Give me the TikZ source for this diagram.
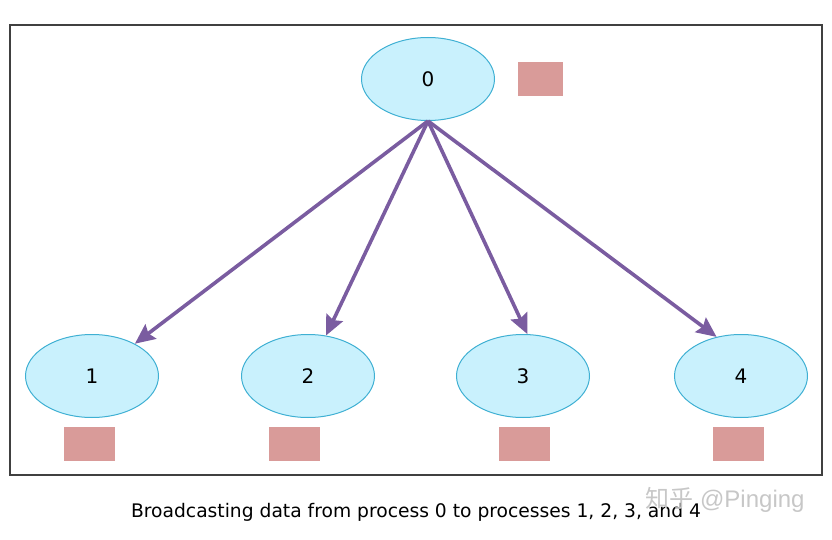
\documentclass[tikz,border=0pt]{standalone}
\usepackage{fontspec}
\setmainfont{DejaVu Sans}
\newfontfamily\cjk{Noto Sans CJK SC}
\usetikzlibrary{shapes.geometric, positioning, arrows.meta}

\definecolor{procfill}{HTML}{C9F1FD}
\definecolor{procline}{HTML}{3FB0D3}
\definecolor{datafill}{HTML}{D99B99}
\definecolor{sendline}{HTML}{7A5CA0}

\begin{document}
\begin{tikzpicture}[
      x=1pt, y=-1pt,
      every node/.style={font=\fontsize{20}{24}\selectfont},
      proc/.style={ellipse, draw=procline, line width=1pt, fill=procfill,
        minimum width=133pt, minimum height=83pt, inner sep=0pt},
      send/.style={draw=sendline, line width=3.6pt, -{Stealth[length=20pt, width=18pt, inset=3pt]}}
    ]
    \useasboundingbox (0,0) rectangle (832,540);
    \draw[line width=1.8pt, draw=black!75] (10,25) rectangle (822,475);

    \tikzstyle{datablock} = [fill=datafill, minimum width=51pt, minimum height=34pt, inner sep=0pt]

    % root and the four receivers
    \node[proc] (p0) at (428,79) {0};
    \node[proc] (p1) at (92,376) {1};
    \node[proc] (p2) at (308,376) {2};
    \node[proc] (p3) at (523,376) {3};
    \node[proc] (p4) at (741,376) {4};

    % data blocks
    \node[datablock, minimum width=45pt, right=23pt of p0] (d0) {};
    \node[datablock, below=9pt of p1, xshift=-3pt] (d1) {};
    \node[datablock, below=9pt of p2, xshift=-14pt] (d2) {};
    \node[datablock, below=9pt of p3, xshift=1pt] (d3) {};
    \node[datablock, below=9pt of p4, xshift=-3pt] (d4) {};

    % broadcast
    \draw[send] (p0.south) -- (p1.37);
    \draw[send] (p0.south) -- (p2.66);
    \draw[send] (p0.south) -- (p3.84);
    \draw[send] (p0.south) -- (p4.122);

    \node[font=\fontsize{18.7}{22}\selectfont] (caption) at (416,512)
      {Broadcasting data from process 0 to processes 1, 2, 3, and 4};
    \node[text=black!22, font=\fontsize{24}{28}\selectfont\setmainfont{Liberation Sans}] (mark) at (725,500)
      {{\cjk 知乎} @Pinging};
\end{tikzpicture}
\end{document}
